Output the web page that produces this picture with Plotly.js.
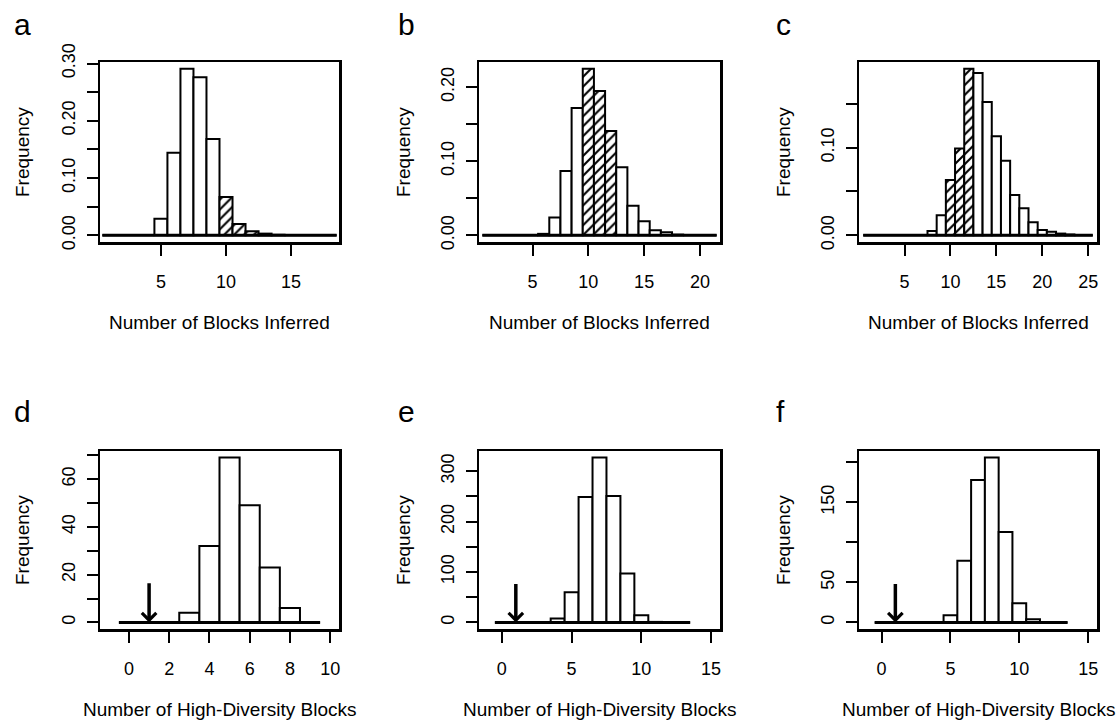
<!DOCTYPE html>
<html><head><meta charset="utf-8">
<script src="https://cdn.plot.ly/plotly-3.0.1.min.js"></script>
<style>html,body{margin:0;padding:0;background:#fff}#chart{width:1116px;height:721px}</style>
</head><body><div id="chart"></div>
<script>
// ---------- DATA ----------
// Top row: number of blocks inferred (relative frequency)
const aBlocks = [1,2,3,4,5,6,7,8,9,10,11,12,13,14,15,16,17,18];
const aFreq   = [0,0,0,0,0.029,0.144,0.291,0.276,0.168,0.067,0.020,0.007,0.003,0.001,0,0,0,0];
const bBlocks = [1,2,3,4,5,6,7,8,9,10,11,12,13,14,15,16,17,18,19,20,21];
const bFreq   = [0,0,0,0,0,0.002,0.024,0.087,0.172,0.225,0.195,0.141,0.092,0.040,0.019,0.007,0.004,0.001,0,0,0];
const cBlocks = [1,2,3,4,5,6,7,8,9,10,11,12,13,14,15,16,17,18,19,20,21,22,23,24,25];
const cFreq   = [0,0,0,0,0,0,0,0.005,0.023,0.063,0.099,0.190,0.185,0.152,0.113,0.085,0.046,0.031,0.015,0.006,0.004,0.002,0.001,0,0];
const hatchedBlocks = [10,11,12];
// Bottom row: number of high-diversity blocks (counts)
const dHigh  = [0,1,2,3,4,5,6,7,8,9];
const dCount = [0,0,0,4,32,69,49,23,6,0];
const eHigh  = [0,1,2,3,4,5,6,7,8,9,10,11,12,13];
const eCount = [0,0,0,0,8,60,249,327,251,97,14,1,0,0];
const fHigh  = [0,1,2,3,4,5,6,7,8,9,10,11,12,13];
const fCount = [0,0,0,0,0,9,77,178,206,113,24,4,0,0];
// Observed values marked by arrows (d, e, f) and arrow tail heights
const observedHigh = [1,1,1];
const arrowTops    = [17,79,50];
// Text
const panelLetters = ['a','b','c','d','e','f'];
const xTitleTop    = 'Number of Blocks Inferred';
const xTitleBottom = 'Number of High-Diversity Blocks';
const yTitleText   = 'Frequency';
// Ticks
const aXTicks = [5,10,15];
const bXTicks = [5,10,15,20];
const cXTicks = [5,10,15,20,25];
const dXTicks = [0,2,4,6,8,10];
const eXTicks = [0,5,10,15];
const fXTicks = [0,5,10,15];
const aYTicks = [0,0.05,0.10,0.15,0.20,0.25,0.30];
const aYLabels = ['0.00','','0.10','','0.20','','0.30'];
const bYTicks = [0,0.05,0.10,0.15,0.20];
const bYLabels = ['0.00','','0.10','','0.20'];
const cYTicks = [0,0.05,0.10,0.15];
const cYLabels = ['0.00','','0.10',''];
const dYTicks = [0,10,20,30,40,50,60,70];
const dYLabels = ['0','','20','','40','','60',''];
const eYTicks = [0,50,100,150,200,250,300];
const eYLabels = ['0','','100','','200','','300'];
const fYTicks = [0,50,100,150,200];
const fYLabels = ['0','50','','150',''];

// ---------- LAYOUT SETTINGS ----------
const W = 1116, H = 721;
const colPx = [[100,339],[479,720],[859,1097]];
const rowPx = [[62,242],[451,629]];
const xlims = [[1,18],[1,21],[1,25],[-1,10],[-1,15],[-1,15]];
const FONT = 'Liberation Sans, Arial, Helvetica, sans-serif';

const panels = [
  {x:aBlocks, y:aFreq, xt:aXTicks, yt:aYTicks, yl:aYLabels, hatch:true},
  {x:bBlocks, y:bFreq, xt:bXTicks, yt:bYTicks, yl:bYLabels, hatch:true},
  {x:cBlocks, y:cFreq, xt:cXTicks, yt:cYTicks, yl:cYLabels, hatch:true},
  {x:dHigh, y:dCount, xt:dXTicks, yt:dYTicks, yl:dYLabels, hatch:false},
  {x:eHigh, y:eCount, xt:eXTicks, yt:eYTicks, yl:eYLabels, hatch:false},
  {x:fHigh, y:fCount, xt:fXTicks, yt:fYTicks, yl:fYLabels, hatch:false}
];

const traces = [];
const layout = {
  width: W, height: H, margin:{l:0,r:0,t:0,b:0},
  paper_bgcolor:'white', plot_bgcolor:'white', showlegend:false,
  font:{family:FONT, color:'black', size:18},
  bargap:0, annotations:[]
};
function expand(lo, hi){ const d=(hi-lo)*0.04; return [lo-d, hi+d]; }

panels.forEach((p,i)=>{
  const n = i+1, sfx = n===1 ? '' : String(n);
  const col = i%3, row = Math.floor(i/3);
  const xa = 'x'+sfx, ya = 'y'+sfx;
  const shapes = p.x.map(v => (p.hatch && hatchedBlocks.includes(v)) ? '/' : '');
  traces.push({
    type:'bar', x:p.x, y:p.y, xaxis:xa, yaxis:ya, width:1,
    marker:{color:'white', line:{color:'black', width:2},
      pattern:{shape:shapes, fgcolor:'black', bgcolor:'white', size:7, solidity:0.3, fillmode:'replace'}},
    hoverinfo:'x+y'
  });
  traces.push({
    type:'scatter', mode:'lines', xaxis:xa, yaxis:ya,
    x:[p.x[0]-0.5, p.x[p.x.length-1]+0.5], y:[0,0],
    line:{color:'black', width:3}, hoverinfo:'skip'
  });
  const ymax = Math.max.apply(null, p.y);
  const common = {showline:true, mirror:true, linecolor:'black', linewidth:2.5,
    showgrid:false, zeroline:false, ticks:'outside', ticklen:11, tickwidth:2, tickcolor:'black',
    tickfont:{family:FONT, size:18, color:'black'}, tickmode:'array', fixedrange:true, automargin:false};
  layout['xaxis'+sfx] = Object.assign({}, common, {
    domain:[colPx[col][0]/W, colPx[col][1]/W], anchor:ya,
    range:expand(xlims[i][0], xlims[i][1]), tickvals:p.xt, ticktext:p.xt.map(String),
    ticklabelstandoff:11
  });
  layout['yaxis'+sfx] = Object.assign({}, common, {
    domain:[1-rowPx[row][1]/H, 1-rowPx[row][0]/H], anchor:xa,
    range:expand(0, ymax), tickvals:p.yt, ticktext:p.yl, tickangle:-90,
    ticklabelstandoff:4
  });
  // panel letter
  layout.annotations.push({xref:'paper', yref:'paper', x:[12,396,774][col]/W, y:1-([24.6,411.6][row])/H,
    xanchor:'left', yanchor:'middle', text:panelLetters[i], showarrow:false,
    font:{family:FONT, size:30, color:'black'}});
  // y title
  layout.annotations.push({xref:'paper', yref:'paper', x:[22,403,783][col]/W,
    y:1-((rowPx[row][0]+rowPx[row][1])/2)/H, xanchor:'center', yanchor:'middle',
    text:yTitleText, textangle:-90, showarrow:false, font:{family:FONT, size:19, color:'black'}});
  // x title
  layout.annotations.push({xref:'paper', yref:'paper', x:((colPx[col][0]+colPx[col][1])/2)/W,
    y:1-([322,709][row])/H, xanchor:'center', yanchor:'middle',
    text: row===0 ? xTitleTop : xTitleBottom, showarrow:false, font:{family:FONT, size:19, color:'black'}});
  // arrows for bottom row
  if(row===1){
    const k = i-3;
    layout.annotations.push({xref:xa, yref:ya, axref:xa, ayref:ya,
      x:observedHigh[k], y:0, ax:observedHigh[k], ay:arrowTops[k], text:'',
      showarrow:true, arrowhead:4, arrowsize:0.8, arrowwidth:3.5, arrowcolor:'black', standoff:0});
  }
});

Plotly.newPlot('chart', traces, layout, {displayModeBar:false, staticPlot:true});
</script></body></html>
